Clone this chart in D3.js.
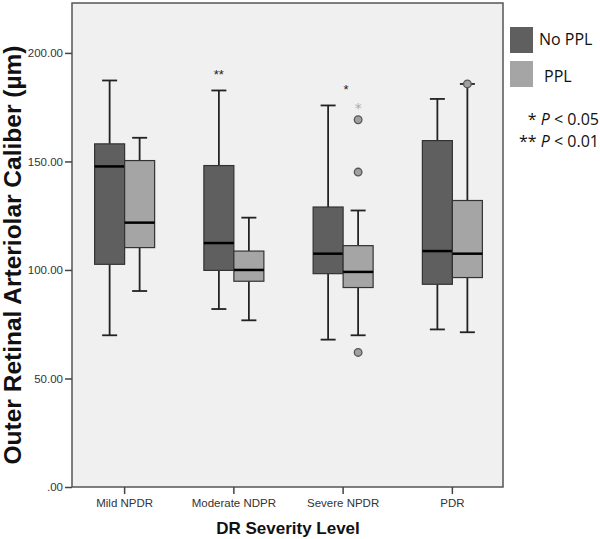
<!DOCTYPE html>
<html>
<head>
    <script src="https://cdn.jsdelivr.net/npm/d3@7"></script>
</head>

<style>
    body { margin: 0; background: white; }
    .axis path { display: none; }
    .axis line { stroke: #444; stroke-width: 1.5; }
    .axis text { fill: #333; font-family: "Liberation Sans", Arial, sans-serif; font-size: 11.5px; }
</style>

<body>
<div id="chart"></div>

<script>

    // category labels (as printed, including the typo)
    var categories = ["Mild NPDR", "Moderate NDPR", "Severe NPDR", "PDR"];
    var groups = ["No PPL", "PPL"];

    // [lower whisker, Q1, median, Q3, upper whisker]
    var noPPL = [
        [69.9, 102.6, 147.7, 158.1, 187.3],
        [82.0, 99.8, 112.4, 148.1, 182.7],
        [67.9, 98.3, 107.5, 129.0, 175.8],
        [72.6, 93.4, 108.7, 159.6, 178.8]
    ];
    var ppl = [
        [90.3, 110.3, 121.8, 150.4, 160.9],
        [76.8, 94.8, 100.0, 108.7, 124.1],
        [69.9, 91.9, 99.1, 111.2, 127.4],
        [71.3, 96.5, 107.5, 132.0, 185.7]
    ];

    // outlier circles and extreme star (PPL series)
    var outlierCats = ["Severe NPDR", "Severe NPDR", "Severe NPDR", "PDR"];
    var outlierVals = [169.2, 145.1, 62.0, 185.7];
    var extremeCats = ["Severe NPDR"];
    var extremeVals = [175.3];

    // significance markers
    var sigCats = ["Moderate NDPR", "Severe NPDR"];
    var sigLabels = ["**", "*"];
    var sigVals = [190.5, 183.6];

    var yTicks = [0, 50, 100, 150, 200];

    var width = 600, height = 539;
    var plot = { left: 72, top: 3, right: 503, bottom: 487 };

    var svg = d3.select('#chart').append('svg')
        .attr('width', width)
        .attr('height', height);

    var xScale = d3.scaleBand()
        .domain(categories)
        .range([70, 507]);

    var gScale = d3.scaleBand()
        .domain(groups)
        .range([-30, 30]);

    var yScale = d3.scaleLinear()
        .domain([0, 223])
        .range([plot.bottom, plot.top]);

    var colors = { "No PPL": "#5f5f5f", "PPL": "#a5a5a5" };

    // plot background + frame
    svg.append('rect')
        .attr('x', plot.left)
        .attr('y', plot.top)
        .attr('width', plot.right - plot.left)
        .attr('height', plot.bottom - plot.top)
        .attr('fill', '#f0f0f0')
        .attr('stroke', '#555')
        .attr('stroke-width', 1.5);

    // axes
    svg.append('g')
        .attr('class', 'y axis')
        .attr('transform', 'translate(' + plot.left + ',0)')
        .call(d3.axisLeft(yScale).tickValues(yTicks).tickSize(7).tickPadding(2)
            .tickFormat(function(d) { return d === 0 ? '.00' : d3.format('.2f')(d); }));

    svg.append('g')
        .attr('class', 'x axis')
        .attr('transform', 'translate(0,' + plot.bottom + ')')
        .call(d3.axisBottom(xScale).tickSize(7).tickPadding(5));

    // build box records
    var boxes = [];
    categories.forEach(function(c, i) {
        boxes.push({ cat: c, group: "No PPL", s: noPPL[i] });
        boxes.push({ cat: c, group: "PPL", s: ppl[i] });
    });

    function cx(d) { return xScale(d.cat) + xScale.bandwidth() / 2 + gScale(d.group) + gScale.bandwidth() / 2; }
    function bx(d) { return xScale(d.cat) + xScale.bandwidth() / 2 + gScale(d.group); }

    var box = svg.append('g').selectAll('g.box')
        .data(boxes)
        .enter()
        .append('g')
        .attr('class', 'box');

    // whiskers
    box.append('line')
        .attr('x1', cx).attr('x2', cx)
        .attr('y1', function(d) { return yScale(d.s[0]); })
        .attr('y2', function(d) { return yScale(d.s[1]); })
        .attr('stroke', '#222').attr('stroke-width', 1.8);
    box.append('line')
        .attr('x1', cx).attr('x2', cx)
        .attr('y1', function(d) { return yScale(d.s[3]); })
        .attr('y2', function(d) { return yScale(d.s[4]); })
        .attr('stroke', '#222').attr('stroke-width', 1.8);

    // caps
    [0, 4].forEach(function(k) {
        box.append('line')
            .attr('x1', function(d) { return cx(d) - 7.5; })
            .attr('x2', function(d) { return cx(d) + 7.5; })
            .attr('y1', function(d) { return yScale(d.s[k]); })
            .attr('y2', function(d) { return yScale(d.s[k]); })
            .attr('stroke', '#222').attr('stroke-width', 1.8);
    });

    box.append('rect')
        .attr('x', bx)
        .attr('width', gScale.bandwidth())
        .attr('y', function(d) { return yScale(d.s[3]); })
        .attr('height', function(d) { return yScale(d.s[1]) - yScale(d.s[3]); })
        .attr('fill', function(d) { return colors[d.group]; })
        .attr('stroke', '#333')
        .attr('stroke-width', 1.2);

    box.append('line')
        .attr('x1', bx)
        .attr('x2', function(d) { return bx(d) + gScale.bandwidth(); })
        .attr('y1', function(d) { return yScale(d.s[2]); })
        .attr('y2', function(d) { return yScale(d.s[2]); })
        .attr('stroke', '#000').attr('stroke-width', 2.5);

    // outliers
    svg.append('g').selectAll('circle')
        .data(outlierVals)
        .enter()
        .append('circle')
        .attr('cx', function(d, i) { return cx({ cat: outlierCats[i], group: "PPL" }); })
        .attr('cy', function(d) { return yScale(d); })
        .attr('r', 3.8)
        .attr('fill', '#a0a0a0')
        .attr('stroke', '#555')
        .attr('stroke-width', 1.3);

    svg.append('g').selectAll('text')
        .data(extremeVals)
        .enter()
        .append('text')
        .attr('x', function(d, i) { return cx({ cat: extremeCats[i], group: "PPL" }); })
        .attr('y', function(d) { return yScale(d) + 6; })
        .attr('text-anchor', 'middle')
        .attr('fill', '#aaa')
        .style('font-family', 'DejaVu Sans, sans-serif')
        .style('font-size', '14px')
        .text('*');

    // significance stars
    var sigDx = [-15, 3];
    svg.append('g').selectAll('text')
        .data(sigVals)
        .enter()
        .append('text')
        .attr('x', function(d, i) { return xScale(sigCats[i]) + xScale.bandwidth() / 2 + sigDx[i]; })
        .attr('y', function(d) { return yScale(d) + 5; })
        .attr('text-anchor', 'middle')
        .attr('fill', '#222')
        .style('font-family', 'Liberation Sans, sans-serif')
        .style('font-size', '13px')
        .text(function(d, i) { return sigLabels[i]; });

    // axis titles
    svg.append('text')
        .attr('transform', 'translate(21,255) rotate(-90)')
        .attr('text-anchor', 'middle')
        .style('font-family', 'Liberation Sans, Arial, sans-serif')
        .style('font-weight', 'bold')
        .style('font-size', '24.5px')
        .attr('fill', '#111')
        .text('Outer Retinal Arteriolar Caliber (\u00b5m)');

    svg.append('text')
        .attr('x', 288)
        .attr('y', 534)
        .attr('text-anchor', 'middle')
        .style('font-family', 'Liberation Sans, Arial, sans-serif')
        .style('font-weight', 'bold')
        .style('font-size', '17px')
        .attr('fill', '#111')
        .text('DR Severity Level');

    // legend
    var legendY = [27, 61];
    var legend = svg.append('g').selectAll('g')
        .data(groups)
        .enter()
        .append('g')
        .attr('transform', function(d, i) { return 'translate(510,' + legendY[i] + ')'; });

    legend.append('rect')
        .attr('width', 23)
        .attr('height', 26)
        .attr('fill', function(d) { return colors[d]; });

    legend.append('text')
        .attr('x', function(d, i) { return i === 0 ? 29 : 34; })
        .attr('y', function(d, i) { return i === 0 ? 18 : 21; })
        .style('font-family', 'Open Sans, sans-serif')
        .style('font-size', '16px')
        .attr('fill', '#111')
        .text(function(d) { return d; });

    var notes = [["*", "0.05", 125], ["**", "0.01", 147]];
    notes.forEach(function(n) {
        var t = svg.append('text')
            .attr('x', 599)
            .attr('y', n[2])
            .attr('text-anchor', 'end')
            .style('font-family', 'Open Sans, sans-serif')
            .style('font-size', '16px')
            .attr('fill', '#111');
        t.append('tspan').text(n[0] + ' ');
        t.append('tspan').style('font-style', 'italic').text('P');
        t.append('tspan').text(' < ' + n[1]);
    });

</script>
</body>
</html>
